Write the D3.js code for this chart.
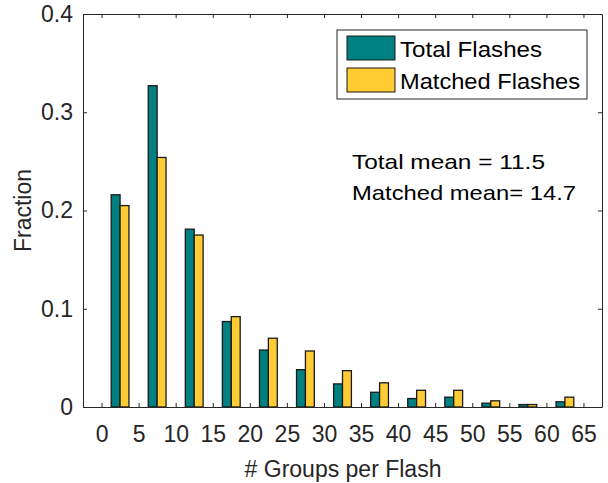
<!DOCTYPE html>
<html>
<head>
<meta charset="utf-8">
<script src="https://cdn.jsdelivr.net/npm/d3@7"></script>
<style>
  html, body { margin: 0; padding: 0; background: #fff; }
  svg { display: block; font-family: "Liberation Sans", Arial, sans-serif; }
</style>
</head>
<body>
<svg id="chart" width="608" height="483"></svg>
<script>
// Histogram bins: centre of each 5-wide bin of groups per flash
const binCenters = [2.5, 7.5, 12.5, 17.5, 22.5, 27.5, 32.5, 37.5, 42.5, 47.5, 52.5, 57.5, 62.5];
const totalFraction   = [0.216, 0.327, 0.181, 0.087, 0.058, 0.038, 0.0235, 0.015, 0.0086, 0.010, 0.0039, 0.0025, 0.0053];
const matchedFraction = [0.205, 0.254, 0.175, 0.092, 0.070, 0.057, 0.037, 0.0246, 0.017, 0.017, 0.0063, 0.0025, 0.010];
const seriesNames = ["Total Flashes", "Matched Flashes"];
const seriesColors = ["#008080", "#ffcc33"];
const xTicks = [0, 5, 10, 15, 20, 25, 30, 35, 40, 45, 50, 55, 60, 65];
const yTicks = [0, 0.1, 0.2, 0.3, 0.4];
const notes = ["Total mean = 11.5", "Matched mean= 14.7"];

const svg = d3.select("#chart");
const m = { left: 83, right: 602, top: 14, bottom: 407 };
const axisColor = "#262626";
const fontFamily = "Liberation Sans, Arial, sans-serif";

const x = d3.scaleLinear().domain([-2.5, 67.5]).range([m.left, m.right]);
const y = d3.scaleLinear().domain([0, 0.4]).range([m.bottom, m.top]);
const barW = x(1.2) - x(0);

// Bars: two series side by side around each bin centre
const series = [totalFraction, matchedFraction];
series.forEach((vals, s) => {
  svg.append("g").selectAll("rect")
    .data(vals)
    .join("rect")
    .attr("x", (d, i) => x(binCenters[i]) + (s === 0 ? -barW : 0))
    .attr("y", d => y(d))
    .attr("width", barW)
    .attr("height", d => y(0) - y(d))
    .attr("fill", seriesColors[s])
    .attr("stroke", "#1a1a1a")
    .attr("stroke-width", 1.3);
});

// Axes box with inward ticks on all four sides
const tickLen = 4;
const axB = d3.axisBottom(x).tickValues(xTicks).tickSizeInner(-tickLen).tickSizeOuter(0).tickPadding(19).tickFormat(d3.format("d"));
const axT = d3.axisTop(x).tickValues(xTicks).tickSizeInner(-tickLen).tickSizeOuter(0).tickFormat("");
const axL = d3.axisLeft(y).tickValues(yTicks).tickSizeInner(-tickLen).tickSizeOuter(0).tickPadding(10).tickFormat(d => d === 0 ? "0" : d3.format(".1f")(d));
const axR = d3.axisRight(y).tickValues(yTicks).tickSizeInner(-tickLen).tickSizeOuter(0).tickFormat("");

function style(g) {
  g.attr("font-size", null).attr("font-family", null);
  g.selectAll("path").attr("stroke", axisColor).attr("stroke-width", 1);
  g.selectAll("line").attr("stroke", axisColor);
  g.selectAll("text").attr("fill", axisColor).style("font-size", "23px").style("font-family", fontFamily);
}
svg.append("g").attr("transform", `translate(0,${m.bottom})`).call(axB).call(style);
svg.append("g").attr("transform", `translate(0,${m.top})`).call(axT).call(style);
svg.append("g").attr("transform", `translate(${m.left},0)`).call(axL).call(style);
svg.append("g").attr("transform", `translate(${m.right},0)`).call(axR).call(style);

// Axis titles
svg.append("text")
  .attr("x", 343).attr("y", 477)
  .attr("text-anchor", "middle").attr("fill", axisColor)
  .style("font-size", "23px").text("# Groups per Flash");
svg.append("text")
  .attr("transform", `translate(31,${(m.top + m.bottom) / 2}) rotate(-90)`)
  .attr("text-anchor", "middle").attr("fill", axisColor)
  .style("font-size", "23px").text("Fraction");

// Legend
const legendTextLen = [142, 180];
const lg = svg.append("g");
lg.append("rect").attr("x", 337).attr("y", 30).attr("width", 250).attr("height", 69)
  .attr("fill", "#fff").attr("stroke", axisColor).attr("stroke-width", 1);
seriesNames.forEach((name, i) => {
  const top = 36 + i * 32;
  lg.append("rect").attr("x", 347).attr("y", top).attr("width", 48).attr("height", 24)
    .attr("fill", seriesColors[i]).attr("stroke", "#1a1a1a").attr("stroke-width", 1);
  lg.append("text").attr("x", 400).attr("y", top + 21)
    .attr("fill", "#000").style("font-size", "22px")
    .attr("textLength", legendTextLen[i]).attr("lengthAdjust", "spacingAndGlyphs")
    .text(name);
});

// Mean annotation
const noteLen = [193, 224];
svg.append("g").selectAll("text")
  .data(notes)
  .join("text")
  .attr("x", 352).attr("y", (d, i) => 169 + i * 31)
  .attr("fill", "#000").style("font-size", "21px")
  .attr("textLength", (d, i) => noteLen[i]).attr("lengthAdjust", "spacingAndGlyphs")
  .text(d => d);
</script>
</body>
</html>
